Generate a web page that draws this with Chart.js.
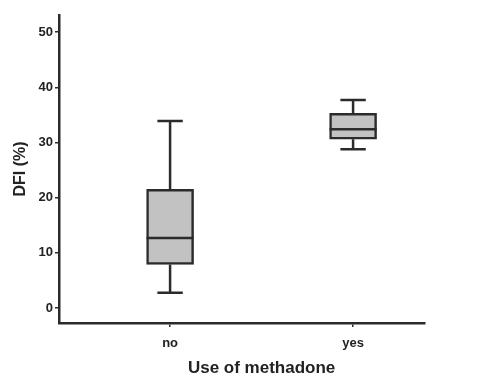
<!DOCTYPE html>
<html>
<head>
<meta charset="utf-8">
<script src="https://cdn.jsdelivr.net/npm/chart.js@4.4.1/dist/chart.umd.min.js"></script>
<style>
  html, body { margin: 0; padding: 0; background: #fff; }
  #wrap { width: 477px; height: 381px; }
</style>
</head>
<body>
<div id="wrap"><canvas id="c" width="477" height="381"></canvas></div>
<script>
// Box-plot summary per group
const categories = ['no', 'yes'];
const whiskerLow = [2.8, 28.8];
const quartile1 = [7.9, 30.6];
const medians = [12.7, 32.4];
const quartile3 = [21.5, 35.3];
const whiskerHigh = [33.9, 37.7];
const yTicks = [0, 10, 20, 30, 40, 50];

const ink = '#2b2b2b';
const boxFill = '#c2c2c2';
const fontFamily = '"Liberation Sans", Arial, sans-serif';

// Whiskers, caps and median lines drawn through the chart's scales
const boxExtras = {
  id: 'boxExtras',
  afterDatasetsDraw(chart) {
    const { ctx, scales: { x, y } } = chart;
    const meta = chart.getDatasetMeta(0);
    ctx.save();
    ctx.strokeStyle = ink;
    ctx.lineWidth = 2.5;
    categories.forEach((c, i) => {
      const bar = meta.data[i];
      const cx = x.getPixelForValue(i);
      const half = bar.width / 2;
      const capHalf = half * 0.54;
      const yLo = y.getPixelForValue(whiskerLow[i]);
      const yQ1 = y.getPixelForValue(quartile1[i]);
      const yMed = y.getPixelForValue(medians[i]);
      const yQ3 = y.getPixelForValue(quartile3[i]);
      const yHi = y.getPixelForValue(whiskerHigh[i]);
      ctx.beginPath();
      ctx.moveTo(cx, yQ3); ctx.lineTo(cx, yHi);
      ctx.moveTo(cx - capHalf, yHi); ctx.lineTo(cx + capHalf, yHi);
      ctx.moveTo(cx, yQ1); ctx.lineTo(cx, yLo);
      ctx.moveTo(cx - capHalf, yLo); ctx.lineTo(cx + capHalf, yLo);
      ctx.moveTo(cx - half, yMed); ctx.lineTo(cx + half, yMed);
      ctx.stroke();
    });
    // x-axis title centred between the two groups
    const mid = (x.getPixelForValue(0) + x.getPixelForValue(1)) / 2;
    ctx.fillStyle = '#222';
    ctx.font = 'bold 17px ' + fontFamily;
    ctx.textAlign = 'center';
    ctx.textBaseline = 'middle';
    ctx.fillText('Use of methadone', mid, 368);
    ctx.restore();
  }
};

new Chart(document.getElementById('c'), {
  type: 'bar',
  data: {
    datasets: [{
      data: categories.map((c, i) => ({ x: i, y: [quartile1[i], quartile3[i]] })),
      backgroundColor: boxFill,
      borderColor: ink,
      borderWidth: 2.5,
      borderSkipped: false,
      barThickness: 47
    }]
  },
  options: {
    responsive: false,
    animation: false,
    layout: { padding: { left: 0, right: 52, top: 15, bottom: 0 } },
    plugins: { legend: { display: false }, tooltip: { enabled: false } },
    scales: {
      x: {
        type: 'linear',
        offset: false,
        min: -0.607,
        max: 1.393,
        afterBuildTicks(scale) { scale.ticks = categories.map((c, i) => ({ value: i })); },
        afterFit(scale) { scale.height = 58; },
        ticks: {
          callback: (v) => categories[v],
          color: '#222',
          font: { family: fontFamily, size: 13, weight: 'bold' },
          padding: 9,
          maxRotation: 0
        },
        grid: { offset: false, drawOnChartArea: false, drawTicks: true, tickLength: 4, color: ink, lineWidth: 1.5 },
        border: { display: true, color: ink, width: 2.5 }
      },
      y: {
        min: -2.7,
        max: 53.1,
        afterBuildTicks(scale) { scale.ticks = yTicks.map(v => ({ value: v })); },
        afterFit(scale) { scale.width = 59; },
        ticks: {
          color: '#222',
          font: { family: fontFamily, size: 13, weight: 'bold' },
          padding: 2
        },
        title: {
          display: true,
          text: 'DFI (%)',
          color: '#222',
          font: { family: fontFamily, size: 16, weight: 'bold' },
          padding: { top: 11, bottom: 0 }
        },
        grid: { drawOnChartArea: false, drawTicks: true, tickLength: 4, color: ink, lineWidth: 1.5 },
        border: { display: true, color: ink, width: 2.5 }
      }
    }
  },
  plugins: [boxExtras]
});
</script>
</body>
</html>
